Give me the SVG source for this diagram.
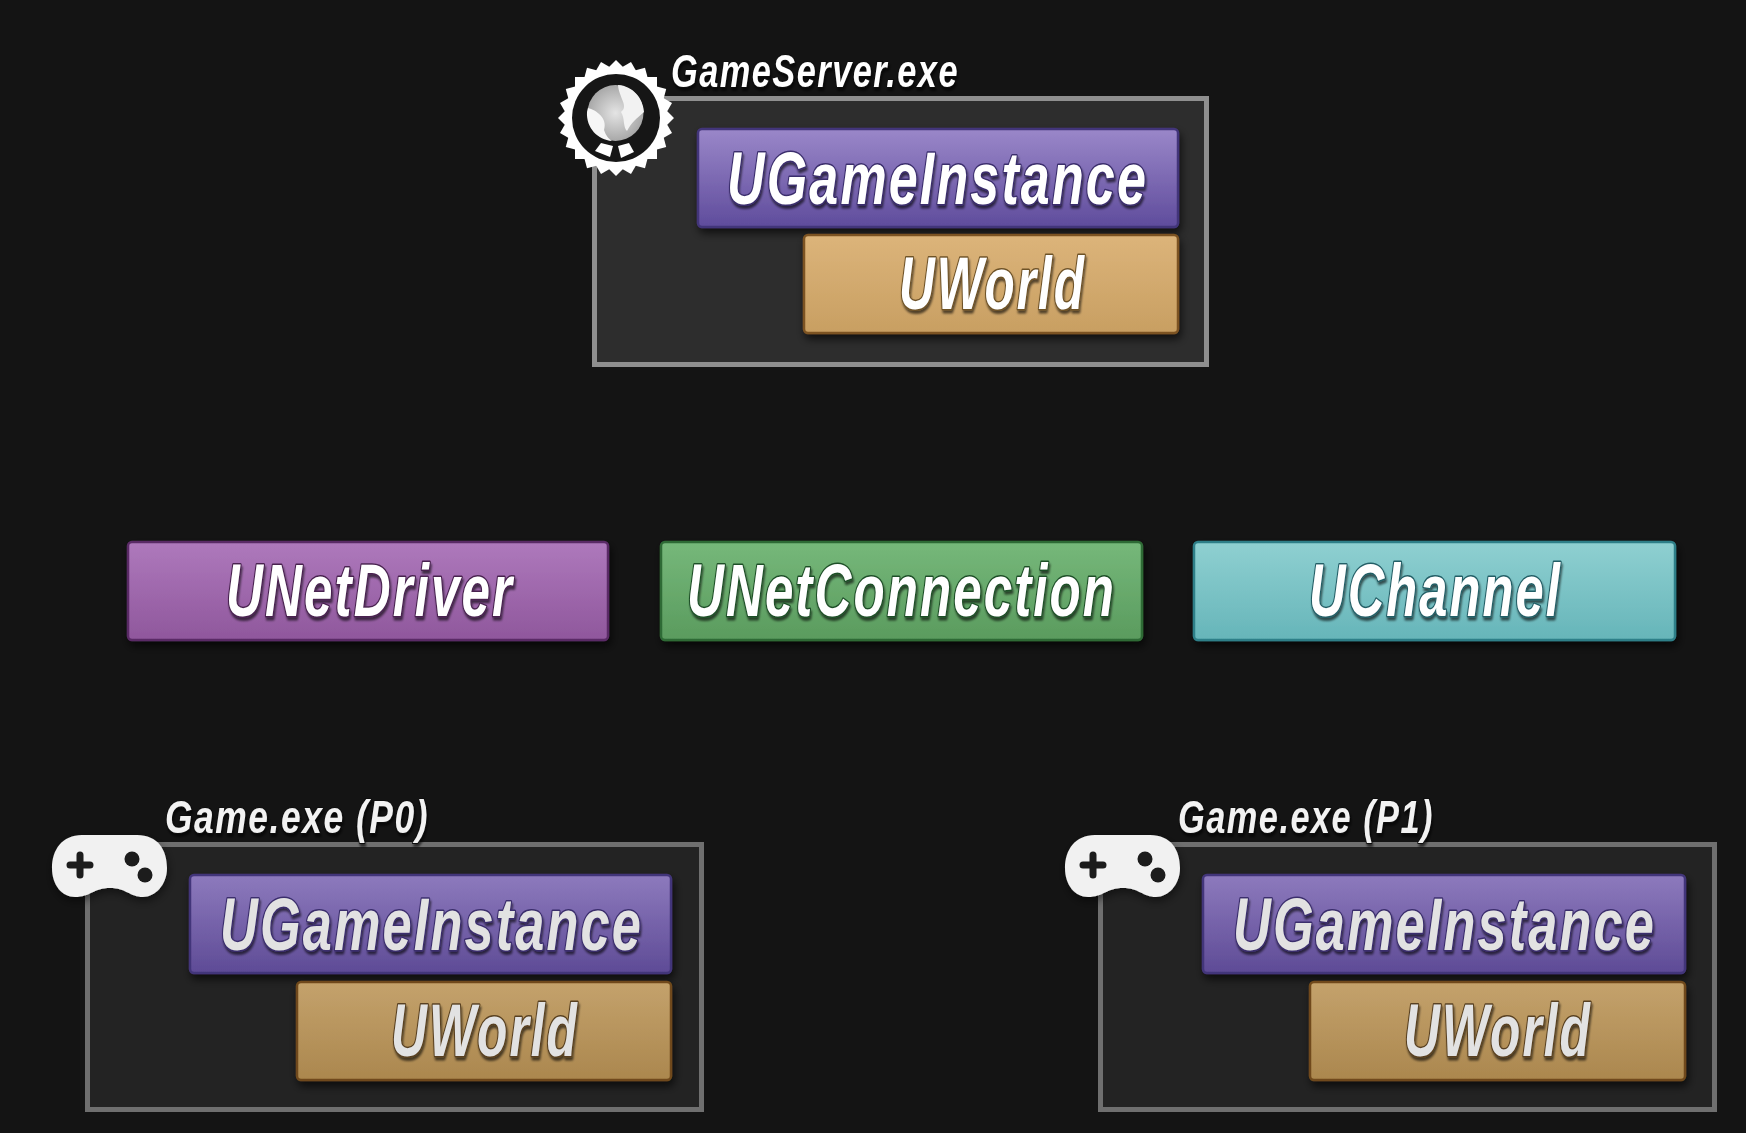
<svg xmlns="http://www.w3.org/2000/svg" xmlns:xlink="http://www.w3.org/1999/xlink" width="1746" height="1133" viewBox="0 0 1746 1133">
<defs>
<linearGradient id="gPurple" x1="0" y1="0" x2="0" y2="1"><stop offset="0" stop-color="#9a87c9"/><stop offset="1" stop-color="#5f4c9c"/></linearGradient>
<linearGradient id="gPurpleDim" x1="0" y1="0" x2="0" y2="1"><stop offset="0" stop-color="#8d7abd"/><stop offset="1" stop-color="#5e4b96"/></linearGradient>
<linearGradient id="gGold" x1="0" y1="0" x2="0" y2="1"><stop offset="0" stop-color="#dcb47a"/><stop offset="1" stop-color="#c89f62"/></linearGradient>
<linearGradient id="gGoldDim" x1="0" y1="0" x2="0" y2="1"><stop offset="0" stop-color="#c4a26c"/><stop offset="1" stop-color="#ab874e"/></linearGradient>
<linearGradient id="gDriver" x1="0" y1="0" x2="0" y2="1"><stop offset="0" stop-color="#ae79bc"/><stop offset="1" stop-color="#8f579c"/></linearGradient>
<linearGradient id="gConn" x1="0" y1="0" x2="0" y2="1"><stop offset="0" stop-color="#76b87a"/><stop offset="1" stop-color="#5a9b5e"/></linearGradient>
<linearGradient id="gChan" x1="0" y1="0" x2="0" y2="1"><stop offset="0" stop-color="#8fd0d1"/><stop offset="1" stop-color="#66b5b9"/></linearGradient>
<radialGradient id="gGlobe" cx="0.5" cy="0.5" r="0.5"><stop offset="0" stop-color="#e4e4e4"/><stop offset="1" stop-color="#a8a8a8"/></radialGradient>
<filter id="barShadow" x="-5%" y="-15%" width="110%" height="135%"><feDropShadow dx="2" dy="5" stdDeviation="4" flood-color="#000" flood-opacity="0.65"/></filter>
<filter id="textShadow" x="-10%" y="-30%" width="120%" height="170%"><feDropShadow dx="1" dy="3" stdDeviation="1" flood-color="#000" flood-opacity="0.6"/></filter>
<filter id="soft" x="-20%" y="-20%" width="140%" height="150%"><feDropShadow dx="1" dy="4" stdDeviation="5" flood-color="#000" flood-opacity="0.5"/></filter>
<rect id="sq" x="-41" y="-41" width="82" height="82" fill="#fff"/>
<g id="pad" filter="url(#soft)">
<path d="M82 835H137C158 835 167 850 167 868C167 885 155 897 143 897C130 897 126 888 110 888C94 888 90 897 75 897C62 897 52 885 52 868C52 850 62 835 82 835Z" fill="#f1f1f1"/>
<path d="M80 855V875M70 865H90" fill="none" stroke="#1a1a1a" stroke-width="7" stroke-linecap="round"/>
<circle cx="132" cy="859" r="7.5" fill="#1a1a1a"/>
<circle cx="145" cy="875" r="7.5" fill="#1a1a1a"/>
</g>
</defs>
<style>
.bg{fill:#141414}
.panelS{fill:#2d2d2d;stroke:#8f8f8f;stroke-width:5}
.panelC{fill:#232323;stroke:#6f6f6f;stroke-width:5}
.bar{stroke-width:2.5;filter:url(#barShadow)}
.t{font-family:"Liberation Sans Narrow","Liberation Sans",sans-serif;font-weight:700;font-style:italic;text-anchor:start;paint-order:stroke;stroke-linejoin:round;filter:url(#textShadow)}
.big{font-size:74px;stroke-width:3px;letter-spacing:3px}
.cap{font-size:47px;fill:#fff;stroke:#111;stroke-width:2px;letter-spacing:2px}
.w{fill:#fff}
.d{fill:#e2e2e2}
</style>
<rect class="bg" width="1746" height="1133"/>

<g id="server">
<rect class="panelS" x="594.5" y="98.5" width="612" height="266"/>
<g id="server-instance">
<rect class="bar" x="698" y="129" width="480" height="98" rx="4" fill="url(#gPurple)" stroke="#43357a"/>
<text class="t big w" x="727" y="204" textLength="421" lengthAdjust="spacingAndGlyphs" stroke="#3a2d6c">UGameInstance</text>
</g>
<g id="server-world">
<rect class="bar" x="804" y="235" width="374" height="98" rx="4" fill="url(#gGold)" stroke="#7c5222"/>
<text class="t big w" x="899" y="309" textLength="187" lengthAdjust="spacingAndGlyphs" stroke="#6e5228">UWorld</text>
</g>
<g id="server-medal">
<use xlink:href="#sq" href="#sq" transform="translate(616 118)"/>
<use xlink:href="#sq" href="#sq" transform="translate(616 118) rotate(15)"/>
<use xlink:href="#sq" href="#sq" transform="translate(616 118) rotate(30)"/>
<use xlink:href="#sq" href="#sq" transform="translate(616 118) rotate(45)"/>
<use xlink:href="#sq" href="#sq" transform="translate(616 118) rotate(60)"/>
<use xlink:href="#sq" href="#sq" transform="translate(616 118) rotate(75)"/>
<circle cx="616" cy="118" r="44" fill="#161616"/>
<circle cx="615.5" cy="113" r="28" fill="url(#gGlobe)"/>
<path d="M618 85C633 86 643 98 644 112C637 118 631 123 627 131C623 128 625 118 621 112C629 106 619 98 618 85Z" fill="#f2f2f2"/>
<path d="M588 108C596 110 608 118 604 130C606 136 609 139 612 141C598 140 586 128 587 112Z" fill="#f6f6f6"/>
<path d="M601 143l12 3-3 11-15-6z" fill="#fff"/>
<path d="M618 146l11-3 5 9-13 6z" fill="#fff"/>
</g>
<text id="server-label" class="t cap" x="671" y="87" textLength="288" lengthAdjust="spacingAndGlyphs">GameServer.exe</text>
</g>

<g id="net-driver">
<rect class="bar" x="128" y="542" width="480" height="98" rx="4" fill="url(#gDriver)" stroke="#5a2c66"/>
<text class="t big w" x="226" y="616" textLength="288" lengthAdjust="spacingAndGlyphs" stroke="#48224f">UNetDriver</text>
</g>
<g id="net-connection">
<rect class="bar" x="661" y="542" width="481" height="98" rx="4" fill="url(#gConn)" stroke="#2f6a36"/>
<text class="t big w" x="687" y="616" textLength="429" lengthAdjust="spacingAndGlyphs" stroke="#1f4f28">UNetConnection</text>
</g>
<g id="channel">
<rect class="bar" x="1194" y="542" width="481" height="98" rx="4" fill="url(#gChan)" stroke="#2f7f88"/>
<text class="t big w" x="1309" y="616" textLength="253" lengthAdjust="spacingAndGlyphs" stroke="#245e66">UChannel</text>
</g>

<g id="client-p0">
<rect class="panelC" x="87.5" y="844.5" width="614" height="265"/>
<g id="p0-instance">
<rect class="bar" x="190" y="875" width="481" height="98" rx="4" fill="url(#gPurpleDim)" stroke="#43357a"/>
<text class="t big d" x="220" y="950" textLength="423" lengthAdjust="spacingAndGlyphs" stroke="#3a2d6c">UGameInstance</text>
</g>
<g id="p0-world">
<rect class="bar" x="297" y="982" width="374" height="98" rx="4" fill="url(#gGoldDim)" stroke="#6f4a1a"/>
<text class="t big d" x="391" y="1056" textLength="188" lengthAdjust="spacingAndGlyphs" stroke="#584020">UWorld</text>
</g>
<use id="p0-pad" xlink:href="#pad" href="#pad"/>
<text id="p0-label" class="t cap" x="165" y="833" textLength="264" lengthAdjust="spacingAndGlyphs" style="fill:#f2f2f2">Game.exe (P0)</text>
</g>

<g id="client-p1">
<rect class="panelC" x="1100.5" y="844.5" width="614" height="265"/>
<g id="p1-instance">
<rect class="bar" x="1203" y="875" width="482" height="98" rx="4" fill="url(#gPurpleDim)" stroke="#43357a"/>
<text class="t big d" x="1233" y="950" textLength="423" lengthAdjust="spacingAndGlyphs" stroke="#3a2d6c">UGameInstance</text>
</g>
<g id="p1-world">
<rect class="bar" x="1310" y="982" width="375" height="98" rx="4" fill="url(#gGoldDim)" stroke="#6f4a1a"/>
<text class="t big d" x="1404" y="1056" textLength="188" lengthAdjust="spacingAndGlyphs" stroke="#584020">UWorld</text>
</g>
<use id="p1-pad" xlink:href="#pad" href="#pad" transform="translate(1013 0)"/>
<text id="p1-label" class="t cap" x="1178" y="833" textLength="256" lengthAdjust="spacingAndGlyphs" style="fill:#f2f2f2">Game.exe (P1)</text>
</g>
</svg>
